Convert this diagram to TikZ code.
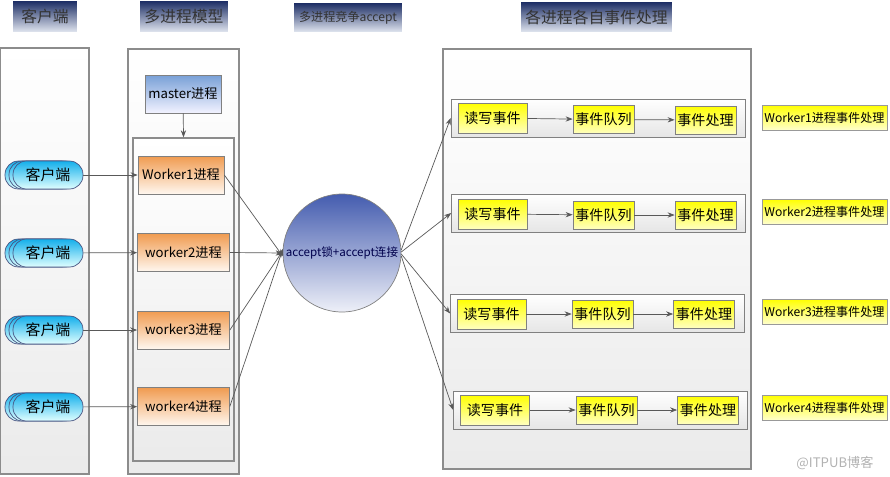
\documentclass[tikz,border=0pt]{standalone}
\usepackage{fontspec}
\setmainfont{Noto Sans CJK SC}
\usetikzlibrary{arrows.meta}
\definecolor{navytop}{RGB}{28,45,100}
\definecolor{navybottom}{RGB}{225,230,240}
\definecolor{accepttop}{RGB}{68,92,175}
\definecolor{acceptbottom}{RGB}{238,240,248}
\definecolor{mastertop}{RGB}{120,160,215}
\definecolor{workertop}{RGB}{240,155,80}
\definecolor{clienttop}{RGB}{20,175,235}

\begin{document}
\begin{tikzpicture}[x=0.02cm,y=-0.02cm,>={Stealth[length=4pt,width=3pt]},
  title/.style={top color=navytop,bottom color=navybottom,text=black!80,inner sep=0pt,font=\fontsize{9}{10}\selectfont},
  panel/.style={draw=black!45,thick,top color=white,bottom color=black!8,inner sep=0pt},
  client/.style={draw=cyan!30!blue!60!black,rounded corners=0.27cm,top color=clienttop,bottom color=cyan!12,minimum width=1.4cm,minimum height=0.56cm,inner sep=0pt,font=\fontsize{8.5}{10}\selectfont},
  proc/.style={draw=black!50,top color=workertop,bottom color=orange!6,minimum width=1.84cm,minimum height=0.76cm,inner sep=0pt,font=\fontsize{7.5}{9}\selectfont},
  rowbox/.style={draw=black!50,top color=white,bottom color=black!10,minimum width=5.88cm,minimum height=0.76cm,inner sep=0pt},
  ev/.style={draw=black!50,top color=yellow,bottom color=yellow!25,minimum height=0.56cm,inner sep=0pt,font=\fontsize{8}{9}\selectfont},
  tag/.style={draw=black!40,top color=yellow,bottom color=yellow!20,minimum width=2.5cm,minimum height=0.5cm,inner sep=0pt,font=\fontsize{6.9}{8}\selectfont},
  line/.style={draw=black!65,->}]
\useasboundingbox (0,0) rectangle (890,477);

\node[title,minimum width=1.28cm,minimum height=0.62cm] (t1) at (45,16.5) {客户端};
\node[title,minimum width=1.76cm,minimum height=0.62cm] (t2) at (184,16.5) {多进程模型};
\node[title,minimum width=2.16cm,minimum height=0.58cm,font=\fontsize{6.9}{8}\selectfont] (t3) at (348,17.5) {多进程竞争accept};
\node[title,minimum width=3.02cm,minimum height=0.60cm] (t4) at (596.5,17) {各进程各自事件处理};

\node[panel,minimum width=1.78cm,minimum height=8.52cm] (pclient) at (44.5,261) {};
\node[panel,minimum width=2.22cm,minimum height=8.5cm] (pmodel) at (183.5,261.5) {};
\node[panel,minimum width=2.02cm,minimum height=6.46cm] (pworkers) at (183.5,299.5) {};
\node[panel,minimum width=6.16cm,minimum height=8.4cm] (pevents) at (597,259) {};

\node[draw=black!50,top color=mastertop,bottom color=blue!5,minimum width=1.52cm,minimum height=0.76cm,inner sep=0pt,font=\fontsize{7.5}{9}\selectfont] (master) at (183,94) {master进程};
\path[line] (master) -- (pworkers.north);

\node[client] at (40,175) {};
\node[client] at (44,175) {};
\node[client] (client1) at (48,175) {客户端};
\node[client] at (40,253) {};
\node[client] at (44,253) {};
\node[client] (client2) at (48,253) {客户端};
\node[client] at (40,330) {};
\node[client] at (44,330) {};
\node[client] (client3) at (48,330) {客户端};
\node[client] at (40,407) {};
\node[client] at (44,407) {};
\node[client] (client4) at (48,407) {客户端};

\node[proc,minimum width=1.72cm] (worker1) at (181,175) {Worker1进程};
\node[proc] (worker2) at (183.5,252.5) {worker2进程};
\node[proc] (worker3) at (183.5,330) {worker3进程};
\node[proc] (worker4) at (183.5,406.5) {worker4进程};

\path[line] (client1) -- (worker1);
\path[line] (client2) -- (worker2);
\path[line] (client3) -- (worker3);
\path[line] (client4) -- (worker4);

\node[circle,draw=black!50,top color=accepttop,bottom color=acceptbottom,text=blue!30!black,minimum size=2.36cm,inner sep=0pt,font=\fontsize{6.6}{8}\selectfont] (accept) at (342,253) {accept锁+accept连接};

\path[line] (worker1.east) -- (accept.183);
\path[line] (worker2.east) -- (accept.180);
\path[line] (worker3.east) -- (accept.178);
\path[line] (worker4.east) -- (accept.176);

\node[rowbox] (row1) at (598,118) {};
\node[rowbox] (row2) at (598.5,213) {};
\node[rowbox] (row3) at (597.5,313.5) {};
\node[rowbox] (row4) at (600.5,410) {};

\path[line] (accept.3) -- (row1.west);
\path[line] (accept.1) -- (row2.west);
\path[line] (accept.-1) -- (row3.west);
\path[line] (accept.-3) -- (row4.west);

\node[ev,minimum width=1.38cm,minimum height=0.6cm] (rw1) at (492.5,118) {读写事件};
\node[ev,minimum width=1.22cm] (queue1) at (603.5,119.5) {事件队列};
\node[ev,minimum width=1.22cm] (handle1) at (705.5,120) {事件处理};
\node[ev,minimum width=1.38cm,minimum height=0.6cm] (rw2) at (492.5,214) {读写事件};
\node[ev,minimum width=1.22cm] (queue2) at (603.5,215) {事件队列};
\node[ev,minimum width=1.22cm] (handle2) at (705.5,215) {事件处理};
\node[ev,minimum width=1.38cm,minimum height=0.6cm] (rw3) at (491.5,314) {读写事件};
\node[ev,minimum width=1.22cm] (queue3) at (602.5,314) {事件队列};
\node[ev,minimum width=1.22cm] (handle3) at (704,314) {事件处理};
\node[ev,minimum width=1.38cm,minimum height=0.6cm] (rw4) at (495,410) {读写事件};
\node[ev,minimum width=1.22cm] (queue4) at (606.5,410) {事件队列};
\node[ev,minimum width=1.22cm] (handle4) at (708,410) {事件处理};

\path[line] (rw1) -- (queue1);
\path[line] (queue1) -- (handle1);
\path[line] (rw2) -- (queue2);
\path[line] (queue2) -- (handle2);
\path[line] (rw3) -- (queue3);
\path[line] (queue3) -- (handle3);
\path[line] (rw4) -- (queue4);
\path[line] (queue4) -- (handle4);

\node[tag] (tag1) at (824.5,117.5) {Worker1进程事件处理};
\node[tag] (tag2) at (824.5,211.5) {Worker2进程事件处理};
\node[tag] (tag3) at (824.5,311.5) {Worker3进程事件处理};
\node[tag] (tag4) at (824.5,407.5) {Worker4进程事件处理};

\node[text=black!30,font=\fontsize{7.5}{9}\selectfont] (mark) at (835,463) {@ITPUB博客};

\end{tikzpicture}
\end{document}
